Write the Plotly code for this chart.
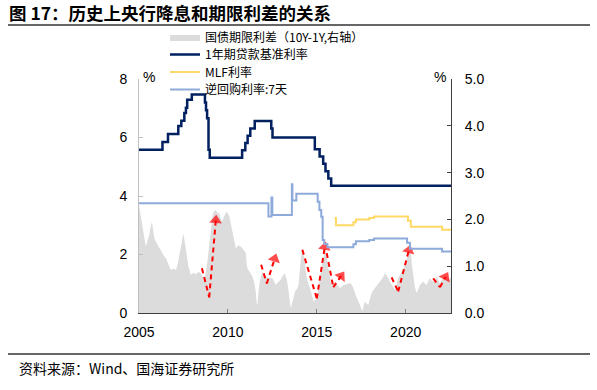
import plotly.graph_objects as go

# ---------------- data ----------------
# 10Y-1Y government bond term spread (right axis, %)
spread_years = [2005.00, 2005.08, 2005.20, 2005.30, 2005.39, 2005.50, 2005.58, 2005.66, 2005.73, 2005.80,
                2005.86, 2005.95, 2006.05, 2006.15, 2006.25, 2006.33, 2006.43, 2006.52, 2006.62, 2006.72,
                2006.80, 2006.95, 2007.08, 2007.18, 2007.27, 2007.38, 2007.50, 2007.58, 2007.65, 2007.78,
                2007.92, 2008.05, 2008.20, 2008.35, 2008.48, 2008.58, 2008.67, 2008.76, 2008.85, 2008.95,
                2009.05, 2009.14, 2009.22, 2009.29, 2009.40, 2009.50, 2009.60, 2009.68, 2009.80, 2009.92,
                2010.00, 2010.07, 2010.16, 2010.26, 2010.35, 2010.45, 2010.58, 2010.73, 2010.88, 2011.01,
                2011.06, 2011.10, 2011.20, 2011.29, 2011.38, 2011.48, 2011.57, 2011.62, 2011.66, 2011.72,
                2011.79, 2011.88, 2011.94, 2012.08, 2012.22, 2012.36, 2012.50, 2012.60, 2012.69, 2012.83,
                2012.97, 2013.10, 2013.20, 2013.28, 2013.35, 2013.45, 2013.54, 2013.60, 2013.67, 2013.78,
                2013.90, 2013.97, 2014.08, 2014.16, 2014.23, 2014.30, 2014.37, 2014.44, 2014.53, 2014.63,
                2014.72, 2014.81, 2014.90, 2015.00, 2015.10, 2015.19, 2015.28, 2015.37, 2015.44, 2015.50,
                2015.57, 2015.65, 2015.75, 2015.84, 2015.93, 2016.03, 2016.17, 2016.31, 2016.45, 2016.59,
                2016.73, 2016.87, 2016.97, 2017.06, 2017.15, 2017.25, 2017.34, 2017.43, 2017.50, 2017.56,
                2017.63, 2017.71, 2017.80, 2017.90, 2017.99, 2018.08, 2018.17, 2018.27, 2018.41, 2018.55,
                2018.70, 2018.84, 2018.93, 2019.03, 2019.12, 2019.21, 2019.30, 2019.40, 2019.49, 2019.58,
                2019.67, 2019.77, 2019.86, 2019.96, 2020.06, 2020.15, 2020.22, 2020.30, 2020.36, 2020.43,
                2020.52, 2020.62, 2020.71, 2020.80, 2020.90, 2020.99, 2021.08, 2021.18, 2021.27, 2021.36,
                2021.45, 2021.55, 2021.65, 2021.74, 2021.83, 2021.93, 2022.02, 2022.11, 2022.20, 2022.30,
                2022.40, 2022.49, 2022.55]
spread_vals = [2.31, 2.10, 1.88, 1.60, 1.42, 1.55, 1.67, 1.85, 1.95, 1.75,
               1.60, 1.52, 1.45, 1.38, 1.30, 1.24, 1.20, 1.17, 1.05, 0.98,
               0.92, 0.95, 0.92, 1.05, 1.24, 1.45, 1.70, 1.50, 1.31, 1.00,
               0.81, 0.86, 0.83, 0.88, 0.85, 0.78, 0.67, 0.85, 1.10, 1.45,
               1.85, 2.09, 2.18, 2.20, 2.15, 2.13, 2.02, 1.95, 2.08, 2.17,
               2.12, 2.09, 1.92, 1.74, 1.55, 1.38, 1.45, 1.42, 1.35, 1.28,
               1.05, 0.95, 0.90, 0.85, 0.78, 0.67, 0.45, 0.20, 0.17, 0.45,
               0.67, 0.80, 0.88, 0.80, 0.74, 0.76, 0.74, 0.68, 0.60, 0.66,
               0.71, 0.80, 0.85, 0.75, 0.64, 0.35, 0.10, 0.20, 0.31, 0.46,
               0.52, 0.60, 1.05, 1.35, 1.28, 1.17, 0.95, 0.74, 0.62, 0.53,
               0.40, 0.24, 0.28, 0.31, 0.55, 0.81, 1.00, 1.17, 1.28, 1.35,
               1.15, 0.96, 0.75, 0.56, 0.62, 0.67, 0.60, 0.53, 0.58, 0.60,
               0.62, 0.64, 0.60, 0.53, 0.42, 0.31, 0.24, 0.17, 0.08, 0.03,
               0.15, 0.24, 0.20, 0.17, 0.30, 0.42, 0.48, 0.53, 0.60, 0.67,
               0.75, 0.85, 0.80, 0.74, 0.66, 0.60, 0.55, 0.49, 0.62, 0.74,
               0.80, 0.88, 0.95, 1.02, 1.15, 1.35, 1.30, 1.24, 1.00, 0.74,
               0.55, 0.42, 0.50, 0.60, 0.64, 0.67, 0.63, 0.60, 0.68, 0.74,
               0.70, 0.67, 0.72, 0.78, 0.70, 0.64, 0.70, 0.74, 0.78, 0.81,
               0.75, 0.71, 0.78]

# 1-year benchmark lending rate (left axis, %)
loan_years = [2005.00, 2006.32, 2006.63, 2007.21, 2007.38, 2007.55, 2007.64, 2007.71, 2007.97,
              2008.71, 2008.77, 2008.83, 2008.91, 2008.98, 2010.80, 2010.98, 2011.11, 2011.26,
              2011.51, 2012.44, 2012.51, 2014.89, 2015.16, 2015.36, 2015.49, 2015.65, 2015.81, 2022.55]
loan_vals = [5.58, 5.85, 6.12, 6.39, 6.57, 6.84, 7.02, 7.29, 7.47,
             7.20, 6.93, 6.66, 5.58, 5.31, 5.56, 5.81, 6.06, 6.31,
             6.56, 6.31, 6.00, 5.60, 5.35, 5.10, 4.85, 4.60, 4.35, 4.35]

# MLF rate (left axis, %)
mlf_years = [2016.00, 2016.08, 2017.06, 2017.20, 2017.95, 2018.22, 2020.13, 2020.29, 2022.05, 2022.55]
mlf_vals = [3.25, 3.00, 3.10, 3.20, 3.25, 3.30, 3.15, 2.95, 2.85, 2.85]

# 7-day reverse repo rate (left axis, %)
repo_years = [2005.00, 2012.28, 2012.45, 2012.50, 2013.60, 2013.63, 2013.85, 2015.05, 2015.15,
              2015.25, 2015.33, 2015.42, 2015.60, 2017.06, 2017.20, 2017.95, 2018.22, 2020.08,
              2020.24, 2022.05, 2022.55]
repo_vals = [3.75, 3.30, 3.95, 3.35, 4.40, 3.85, 4.08, 3.80, 3.52,
             3.29, 2.50, 2.36, 2.25, 2.35, 2.45, 2.50, 2.55, 2.40,
             2.20, 2.10, 2.10]

# red dashed annotation arrows (start, trough, tip) on the spread axis
arrow_years = [[2008.54, 2008.95, 2009.32], [2011.87, 2012.19, 2012.63], [2014.19, 2015.00, 2015.45],
               [2015.56, 2015.93, 2016.37], [2019.21, 2019.58, 2020.18], [2021.55, 2021.93, 2022.24]]
arrow_vals = [[0.955, 0.335, 1.98], [1.03, 0.63, 1.16], [1.35, 0.31, 1.41],
              [1.28, 0.55, 0.79], [0.76, 0.46, 1.34], [0.74, 0.55, 0.77]]

legend_names = ["国债期限利差（10Y-1Y,右轴）", "1年期贷款基准利率", "MLF利率", "逆回购利率:7天"]
x_ticks = [2005, 2010, 2015, 2020]
title_text = "图 17：历史上央行降息和期限利差的关系"
source_text = "资料来源：Wind、国海证券研究所"

# ---------------- figure ----------------
W, H = 597, 390
L, R, T, B = 139, 451, 79, 313


def px_x(p):
    return (p - L) / (R - L)


def px_y(p):
    return (B - p) / (B - T)


CJK = "Noto Sans CJK SC"
NUM = "Liberation Sans, Arial"

fig = go.Figure()

fig.add_trace(go.Scatter(x=spread_years, y=spread_vals, mode="lines", fill="tozeroy",
                         fillcolor="#dcdcdc", line=dict(width=0, color="#dcdcdc"),
                         name=legend_names[0], yaxis="y", legend="legend"))

for i in range(len(arrow_years)):
    fig.add_trace(go.Scatter(x=arrow_years[i][:2], y=arrow_vals[i][:2], mode="lines",
                             line=dict(color="#ff0000", width=2, dash="5px,4px"),
                             showlegend=False, hoverinfo="skip", yaxis="y"))
    fig.add_trace(go.Scatter(x=arrow_years[i][1:], y=arrow_vals[i][1:], mode="lines+markers",
                             line=dict(color="#ff0000", width=2, dash="5px,4px"),
                             marker=dict(symbol="triangle-up", size=[0, 11], angleref="previous",
                                         color="#ff0000", line=dict(width=0)),
                             showlegend=False, hoverinfo="skip", yaxis="y"))

fig.add_trace(go.Scatter(x=loan_years, y=loan_vals, mode="lines", line_shape="hv",
                         line=dict(color="#002060", width=2.5),
                         name=legend_names[1], yaxis="y2", legend="legend2"))
fig.add_trace(go.Scatter(x=mlf_years, y=mlf_vals, mode="lines", line_shape="hv",
                         line=dict(color="#ffd966", width=2),
                         name=legend_names[2], yaxis="y2", legend="legend3"))
fig.add_trace(go.Scatter(x=repo_years, y=repo_vals, mode="lines", line_shape="hv",
                         line=dict(color="#8eaadb", width=2),
                         name=legend_names[3], yaxis="y2", legend="legend4"))

leg_common = dict(x=px_x(165), xanchor="left", yanchor="middle", bgcolor="rgba(0,0,0,0)",
                  font=dict(family=CJK, size=12, color="#000"), borderwidth=0, itemwidth=30)

fig.update_layout(
    width=W, height=H,
    margin=dict(l=L, r=W - R, t=T, b=H - B, autoexpand=False),
    paper_bgcolor="white", plot_bgcolor="white",
    legend=dict(y=px_y(37), **leg_common),
    legend2=dict(y=px_y(54.5), **leg_common),
    legend3=dict(y=px_y(72), **leg_common),
    legend4=dict(y=px_y(89.5), **leg_common),
    xaxis=dict(range=[2005, 2022.55], tickvals=x_ticks, ticktext=[str(v) for v in x_ticks],
               showgrid=False, zeroline=False, showline=True, linecolor="#404040", linewidth=1,
               ticks="inside", ticklen=4, tickcolor="#808080",
               tickfont=dict(family=NUM, size=14, color="#000"), ticklabelstandoff=6),
    yaxis=dict(range=[0, 5], dtick=1, tickformat=".1f", side="right",
               showgrid=False, zeroline=False, showline=True, linecolor="#404040", linewidth=1,
               ticks="inside", ticklen=4, tickcolor="#404040",
               tickfont=dict(family=NUM, size=14, color="#000"), ticklabelstandoff=10),
    yaxis2=dict(range=[0, 8], dtick=2, side="left", overlaying="y",
                showgrid=False, zeroline=False, showline=True, linecolor="#c0c0c0", linewidth=1,
                ticks="inside", ticklen=4, tickcolor="#c0c0c0",
                tickfont=dict(family=NUM, size=14, color="#000"), ticklabelstandoff=8),
    showlegend=True,
)

fig.add_annotation(text="%", xref="paper", yref="paper", x=px_x(149), y=px_y(77),
                   xanchor="center", yanchor="middle", showarrow=False,
                   font=dict(family=NUM, size=14, color="#000"))
fig.add_annotation(text="%", xref="paper", yref="paper", x=px_x(440), y=px_y(77),
                   xanchor="center", yanchor="middle", showarrow=False,
                   font=dict(family=NUM, size=14, color="#000"))
fig.add_annotation(text="<b>" + title_text + "</b>", xref="paper", yref="paper", x=px_x(7), y=px_y(13),
                   xanchor="left", yanchor="middle", showarrow=False,
                   font=dict(family=CJK, size=17.5, color="#000"))
fig.add_annotation(text=source_text, xref="paper", yref="paper", x=px_x(17), y=px_y(368),
                   xanchor="left", yanchor="middle", showarrow=False,
                   font=dict(family=CJK, size=14, color="#000"))
fig.add_shape(type="line", xref="paper", yref="paper", x0=px_x(8), x1=px_x(590),
              y0=px_y(25), y1=px_y(25), line=dict(color="#333", width=1.5))
fig.add_shape(type="line", xref="paper", yref="paper", x0=px_x(8), x1=px_x(590),
              y0=px_y(354), y1=px_y(354), line=dict(color="#333", width=1.5))

fig.write_html("out.html", config={"displayModeBar": False},
               post_script="document.body.style.margin='0';")
